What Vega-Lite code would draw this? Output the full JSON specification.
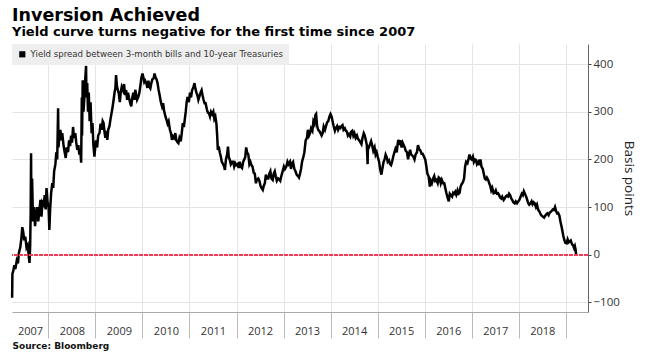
{
"$schema": "https://vega.github.io/schema/vega-lite/v6.json",
"width": 576, "height": 268,
"autosize": {"type": "none"},
"padding": {"left": 12, "top": 44, "right": 63, "bottom": 41},
"background": "white",
"title": {"text": "Inversion Achieved", "subtitle": "Yield curve turns negative for the first time since 2007", "anchor": "start", "frame": "group", "font": "DejaVu Sans", "fontSize": 17.5, "fontWeight": "bold", "color": "#000", "subtitleFont": "DejaVu Sans", "subtitleFontSize": 13, "subtitleFontWeight": "bold", "subtitleColor": "#000", "subtitlePadding": 1.5, "offset": 5},
"data": {"values": [
{"d":"2007-03-26","v":-90},{"d":"2007-03-28","v":-40},{"d":"2007-04-03","v":-35},{"d":"2007-04-12","v":-22},{"d":"2007-04-20","v":-30},{"d":"2007-05-01","v":-12},{"d":"2007-05-10","v":-18},{"d":"2007-05-18","v":5},{"d":"2007-05-28","v":15},{"d":"2007-06-06","v":35},{"d":"2007-06-13","v":58},{"d":"2007-06-20","v":48},{"d":"2007-06-28","v":30},{"d":"2007-07-06","v":38},{"d":"2007-07-16","v":15},{"d":"2007-07-25","v":20},{"d":"2007-08-03","v":-5},{"d":"2007-08-08","v":-17},{"d":"2007-08-13","v":20},{"d":"2007-08-17","v":90},{"d":"2007-08-20","v":213},{"d":"2007-08-22","v":110},{"d":"2007-08-28","v":160},{"d":"2007-09-04","v":70},{"d":"2007-09-12","v":100},{"d":"2007-09-20","v":60},{"d":"2007-09-28","v":85},{"d":"2007-10-06","v":100},{"d":"2007-10-15","v":70},{"d":"2007-10-24","v":95},{"d":"2007-11-01","v":115},{"d":"2007-11-09","v":80},{"d":"2007-11-16","v":110},{"d":"2007-11-26","v":105},{"d":"2007-12-04","v":125},{"d":"2007-12-12","v":95},{"d":"2007-12-18","v":140},{"d":"2007-12-26","v":110},
{"d":"2008-01-03","v":100},{"d":"2008-01-09","v":52},{"d":"2008-01-15","v":95},{"d":"2008-01-23","v":130},{"d":"2008-02-01","v":150},{"d":"2008-02-08","v":140},{"d":"2008-02-15","v":175},{"d":"2008-02-25","v":190},{"d":"2008-03-03","v":215},{"d":"2008-03-10","v":200},{"d":"2008-03-17","v":307},{"d":"2008-03-20","v":225},{"d":"2008-03-27","v":250},{"d":"2008-04-04","v":262},{"d":"2008-04-11","v":240},{"d":"2008-04-18","v":255},{"d":"2008-04-28","v":230},{"d":"2008-05-07","v":215},{"d":"2008-05-15","v":203},{"d":"2008-05-23","v":225},{"d":"2008-06-02","v":215},{"d":"2008-06-10","v":240},{"d":"2008-06-18","v":228},{"d":"2008-06-26","v":250},{"d":"2008-07-03","v":235},{"d":"2008-07-11","v":268},{"d":"2008-07-18","v":245},{"d":"2008-07-28","v":255},{"d":"2008-08-05","v":235},{"d":"2008-08-13","v":220},{"d":"2008-08-21","v":230},{"d":"2008-08-29","v":210},{"d":"2008-09-05","v":220},{"d":"2008-09-12","v":193},{"d":"2008-09-17","v":330},{"d":"2008-09-19","v":250},{"d":"2008-09-24","v":366},{"d":"2008-09-30","v":300},{"d":"2008-10-07","v":330},{"d":"2008-10-14","v":370},{"d":"2008-10-20","v":396},{"d":"2008-10-23","v":330},{"d":"2008-10-29","v":360},{"d":"2008-11-04","v":300},{"d":"2008-11-10","v":340},{"d":"2008-11-17","v":280},{"d":"2008-11-24","v":320},{"d":"2008-12-02","v":255},{"d":"2008-12-09","v":276},{"d":"2008-12-16","v":230},{"d":"2008-12-24","v":206},{"d":"2008-12-30","v":225},
{"d":"2009-01-06","v":240},{"d":"2009-01-14","v":225},{"d":"2009-01-22","v":250},{"d":"2009-02-02","v":256},{"d":"2009-02-10","v":275},{"d":"2009-02-18","v":262},{"d":"2009-02-26","v":280},{"d":"2009-03-05","v":276},{"d":"2009-03-12","v":258},{"d":"2009-03-19","v":245},{"d":"2009-03-27","v":260},{"d":"2009-04-03","v":241},{"d":"2009-04-10","v":262},{"d":"2009-04-20","v":270},{"d":"2009-04-28","v":285},{"d":"2009-05-06","v":297},{"d":"2009-05-14","v":310},{"d":"2009-05-22","v":325},{"d":"2009-05-29","v":340},{"d":"2009-06-05","v":350},{"d":"2009-06-10","v":377},{"d":"2009-06-16","v":355},{"d":"2009-06-24","v":345},{"d":"2009-07-01","v":339},{"d":"2009-07-09","v":320},{"d":"2009-07-16","v":340},{"d":"2009-07-24","v":352},{"d":"2009-08-03","v":345},{"d":"2009-08-11","v":358},{"d":"2009-08-19","v":335},{"d":"2009-08-27","v":345},{"d":"2009-09-04","v":325},{"d":"2009-09-11","v":340},{"d":"2009-09-18","v":330},{"d":"2009-09-28","v":318},{"d":"2009-10-06","v":311},{"d":"2009-10-14","v":330},{"d":"2009-10-22","v":340},{"d":"2009-10-30","v":325},{"d":"2009-11-06","v":346},{"d":"2009-11-13","v":335},{"d":"2009-11-20","v":325},{"d":"2009-11-30","v":331},{"d":"2009-12-08","v":340},{"d":"2009-12-16","v":355},{"d":"2009-12-23","v":370},
{"d":"2010-01-01","v":380},{"d":"2010-01-08","v":372},{"d":"2010-01-15","v":362},{"d":"2010-01-22","v":365},{"d":"2010-02-01","v":359},{"d":"2010-02-08","v":350},{"d":"2010-02-16","v":365},{"d":"2010-02-24","v":352},{"d":"2010-03-03","v":349},{"d":"2010-03-11","v":360},{"d":"2010-03-19","v":368},{"d":"2010-03-29","v":370},{"d":"2010-04-05","v":380},{"d":"2010-04-12","v":372},{"d":"2010-04-20","v":368},{"d":"2010-04-28","v":360},{"d":"2010-05-06","v":346},{"d":"2010-05-14","v":335},{"d":"2010-05-24","v":320},{"d":"2010-06-02","v":311},{"d":"2010-06-10","v":318},{"d":"2010-06-18","v":302},{"d":"2010-06-28","v":290},{"d":"2010-07-07","v":283},{"d":"2010-07-15","v":275},{"d":"2010-07-23","v":280},{"d":"2010-08-02","v":262},{"d":"2010-08-10","v":255},{"d":"2010-08-18","v":241},{"d":"2010-08-26","v":248},{"d":"2010-09-03","v":245},{"d":"2010-09-13","v":255},{"d":"2010-09-21","v":240},{"d":"2010-09-30","v":236},{"d":"2010-10-07","v":234},{"d":"2010-10-15","v":245},{"d":"2010-10-25","v":238},{"d":"2010-11-02","v":255},{"d":"2010-11-10","v":276},{"d":"2010-11-18","v":268},{"d":"2010-11-26","v":285},{"d":"2010-12-03","v":300},{"d":"2010-12-10","v":320},{"d":"2010-12-17","v":331},{"d":"2010-12-27","v":320},
{"d":"2011-01-05","v":340},{"d":"2011-01-13","v":330},{"d":"2011-01-21","v":345},{"d":"2011-02-01","v":352},{"d":"2011-02-09","v":360},{"d":"2011-02-16","v":348},{"d":"2011-02-24","v":340},{"d":"2011-03-03","v":335},{"d":"2011-03-11","v":325},{"d":"2011-03-18","v":331},{"d":"2011-03-28","v":340},{"d":"2011-04-05","v":345},{"d":"2011-04-12","v":335},{"d":"2011-04-20","v":325},{"d":"2011-04-28","v":318},{"d":"2011-05-06","v":318},{"d":"2011-05-16","v":305},{"d":"2011-05-24","v":298},{"d":"2011-06-01","v":297},{"d":"2011-06-09","v":290},{"d":"2011-06-17","v":300},{"d":"2011-06-27","v":295},{"d":"2011-07-05","v":300},{"d":"2011-07-13","v":285},{"d":"2011-07-21","v":290},{"d":"2011-07-29","v":275},{"d":"2011-08-04","v":250},{"d":"2011-08-09","v":220},{"d":"2011-08-16","v":227},{"d":"2011-08-24","v":215},{"d":"2011-09-01","v":206},{"d":"2011-09-09","v":195},{"d":"2011-09-19","v":190},{"d":"2011-09-27","v":185},{"d":"2011-10-03","v":178},{"d":"2011-10-11","v":200},{"d":"2011-10-20","v":210},{"d":"2011-10-27","v":227},{"d":"2011-11-02","v":205},{"d":"2011-11-10","v":199},{"d":"2011-11-18","v":190},{"d":"2011-11-28","v":195},{"d":"2011-12-06","v":195},{"d":"2011-12-14","v":185},{"d":"2011-12-22","v":192},{"d":"2011-12-30","v":188},
{"d":"2012-01-09","v":190},{"d":"2012-01-18","v":182},{"d":"2012-01-26","v":195},{"d":"2012-02-03","v":185},{"d":"2012-02-13","v":182},{"d":"2012-02-22","v":195},{"d":"2012-03-01","v":200},{"d":"2012-03-09","v":205},{"d":"2012-03-16","v":225},{"d":"2012-03-23","v":215},{"d":"2012-04-02","v":210},{"d":"2012-04-10","v":190},{"d":"2012-04-18","v":195},{"d":"2012-04-26","v":188},{"d":"2012-05-04","v":185},{"d":"2012-05-14","v":172},{"d":"2012-05-22","v":170},{"d":"2012-05-31","v":150},{"d":"2012-06-08","v":158},{"d":"2012-06-18","v":160},{"d":"2012-06-27","v":155},{"d":"2012-07-05","v":145},{"d":"2012-07-13","v":140},{"d":"2012-07-23","v":136},{"d":"2012-07-31","v":145},{"d":"2012-08-08","v":150},{"d":"2012-08-16","v":168},{"d":"2012-08-24","v":160},{"d":"2012-09-04","v":160},{"d":"2012-09-12","v":170},{"d":"2012-09-20","v":175},{"d":"2012-09-28","v":160},{"d":"2012-10-08","v":157},{"d":"2012-10-16","v":170},{"d":"2012-10-24","v":175},{"d":"2012-11-01","v":164},{"d":"2012-11-09","v":155},{"d":"2012-11-19","v":160},{"d":"2012-11-28","v":158},{"d":"2012-12-06","v":155},{"d":"2012-12-14","v":165},{"d":"2012-12-24","v":175},
{"d":"2013-01-03","v":185},{"d":"2013-01-11","v":180},{"d":"2013-01-22","v":185},{"d":"2013-01-31","v":195},{"d":"2013-02-08","v":190},{"d":"2013-02-19","v":195},{"d":"2013-02-27","v":180},{"d":"2013-03-07","v":192},{"d":"2013-03-15","v":195},{"d":"2013-03-25","v":180},{"d":"2013-04-03","v":175},{"d":"2013-04-12","v":168},{"d":"2013-04-22","v":165},{"d":"2013-04-30","v":162},{"d":"2013-05-08","v":170},{"d":"2013-05-16","v":180},{"d":"2013-05-24","v":195},{"d":"2013-06-03","v":205},{"d":"2013-06-11","v":215},{"d":"2013-06-21","v":240},{"d":"2013-07-01","v":245},{"d":"2013-07-08","v":262},{"d":"2013-07-17","v":250},{"d":"2013-07-25","v":255},{"d":"2013-08-02","v":265},{"d":"2013-08-12","v":260},{"d":"2013-08-20","v":280},{"d":"2013-08-28","v":275},{"d":"2013-09-05","v":293},{"d":"2013-09-10","v":295},{"d":"2013-09-18","v":270},{"d":"2013-09-26","v":262},{"d":"2013-10-04","v":260},{"d":"2013-10-14","v":255},{"d":"2013-10-23","v":250},{"d":"2013-10-31","v":255},{"d":"2013-11-08","v":269},{"d":"2013-11-18","v":262},{"d":"2013-11-26","v":270},{"d":"2013-12-05","v":278},{"d":"2013-12-13","v":280},{"d":"2013-12-23","v":290},{"d":"2013-12-31","v":295},
{"d":"2014-01-08","v":290},{"d":"2014-01-16","v":280},{"d":"2014-01-24","v":270},{"d":"2014-02-03","v":260},{"d":"2014-02-11","v":266},{"d":"2014-02-20","v":270},{"d":"2014-02-28","v":262},{"d":"2014-03-10","v":268},{"d":"2014-03-18","v":266},{"d":"2014-03-26","v":270},{"d":"2014-04-03","v":272},{"d":"2014-04-11","v":262},{"d":"2014-04-21","v":265},{"d":"2014-04-29","v":260},{"d":"2014-05-07","v":258},{"d":"2014-05-15","v":250},{"d":"2014-05-23","v":253},{"d":"2014-06-02","v":248},{"d":"2014-06-10","v":258},{"d":"2014-06-18","v":260},{"d":"2014-06-26","v":250},{"d":"2014-07-04","v":255},{"d":"2014-07-14","v":245},{"d":"2014-07-24","v":250},{"d":"2014-08-01","v":243},{"d":"2014-08-11","v":240},{"d":"2014-08-19","v":236},{"d":"2014-08-28","v":232},{"d":"2014-09-05","v":245},{"d":"2014-09-15","v":255},{"d":"2014-09-23","v":250},{"d":"2014-10-01","v":240},{"d":"2014-10-09","v":230},{"d":"2014-10-15","v":190},{"d":"2014-10-17","v":220},{"d":"2014-10-24","v":225},{"d":"2014-11-03","v":232},{"d":"2014-11-11","v":238},{"d":"2014-11-19","v":230},{"d":"2014-11-28","v":218},{"d":"2014-12-08","v":225},{"d":"2014-12-16","v":210},{"d":"2014-12-24","v":215},
{"d":"2015-01-02","v":205},{"d":"2015-01-12","v":195},{"d":"2015-01-20","v":180},{"d":"2015-01-30","v":168},{"d":"2015-02-06","v":180},{"d":"2015-02-16","v":195},{"d":"2015-02-24","v":200},{"d":"2015-03-04","v":210},{"d":"2015-03-12","v":205},{"d":"2015-03-20","v":195},{"d":"2015-03-30","v":198},{"d":"2015-04-07","v":190},{"d":"2015-04-15","v":188},{"d":"2015-04-23","v":195},{"d":"2015-05-01","v":205},{"d":"2015-05-11","v":215},{"d":"2015-05-19","v":222},{"d":"2015-05-29","v":215},{"d":"2015-06-05","v":232},{"d":"2015-06-10","v":241},{"d":"2015-06-18","v":230},{"d":"2015-06-26","v":240},{"d":"2015-07-06","v":225},{"d":"2015-07-14","v":235},{"d":"2015-07-22","v":230},{"d":"2015-07-30","v":225},{"d":"2015-08-07","v":218},{"d":"2015-08-17","v":215},{"d":"2015-08-25","v":200},{"d":"2015-09-02","v":212},{"d":"2015-09-10","v":220},{"d":"2015-09-18","v":210},{"d":"2015-09-28","v":208},{"d":"2015-10-06","v":205},{"d":"2015-10-14","v":200},{"d":"2015-10-22","v":210},{"d":"2015-11-02","v":215},{"d":"2015-11-10","v":230},{"d":"2015-11-18","v":222},{"d":"2015-11-30","v":218},{"d":"2015-12-08","v":212},{"d":"2015-12-16","v":212},{"d":"2015-12-28","v":205},
{"d":"2016-01-06","v":199},{"d":"2016-01-14","v":185},{"d":"2016-01-22","v":170},{"d":"2016-02-01","v":164},{"d":"2016-02-10","v":143},{"d":"2016-02-18","v":155},{"d":"2016-02-26","v":150},{"d":"2016-03-07","v":160},{"d":"2016-03-15","v":165},{"d":"2016-03-23","v":155},{"d":"2016-04-01","v":157},{"d":"2016-04-11","v":150},{"d":"2016-04-19","v":162},{"d":"2016-04-27","v":160},{"d":"2016-05-05","v":150},{"d":"2016-05-13","v":157},{"d":"2016-05-23","v":150},{"d":"2016-06-01","v":150},{"d":"2016-06-09","v":140},{"d":"2016-06-17","v":130},{"d":"2016-06-27","v":120},{"d":"2016-07-06","v":112},{"d":"2016-07-14","v":128},{"d":"2016-07-22","v":125},{"d":"2016-08-01","v":122},{"d":"2016-08-09","v":130},{"d":"2016-08-17","v":128},{"d":"2016-08-25","v":132},{"d":"2016-09-02","v":126},{"d":"2016-09-12","v":135},{"d":"2016-09-20","v":128},{"d":"2016-09-28","v":130},{"d":"2016-10-06","v":143},{"d":"2016-10-14","v":148},{"d":"2016-10-24","v":152},{"d":"2016-11-02","v":160},{"d":"2016-11-10","v":185},{"d":"2016-11-18","v":195},{"d":"2016-11-28","v":192},{"d":"2016-12-06","v":200},{"d":"2016-12-14","v":210},{"d":"2016-12-22","v":202},{"d":"2016-12-30","v":200},
{"d":"2017-01-09","v":206},{"d":"2017-01-17","v":195},{"d":"2017-01-25","v":200},{"d":"2017-02-02","v":199},{"d":"2017-02-10","v":190},{"d":"2017-02-21","v":195},{"d":"2017-03-01","v":188},{"d":"2017-03-09","v":200},{"d":"2017-03-17","v":185},{"d":"2017-03-27","v":180},{"d":"2017-04-04","v":170},{"d":"2017-04-12","v":160},{"d":"2017-04-20","v":158},{"d":"2017-04-28","v":162},{"d":"2017-05-08","v":157},{"d":"2017-05-16","v":150},{"d":"2017-05-24","v":145},{"d":"2017-06-01","v":135},{"d":"2017-06-09","v":140},{"d":"2017-06-19","v":129},{"d":"2017-06-27","v":130},{"d":"2017-07-06","v":135},{"d":"2017-07-14","v":128},{"d":"2017-07-24","v":129},{"d":"2017-08-01","v":125},{"d":"2017-08-09","v":120},{"d":"2017-08-17","v":118},{"d":"2017-08-25","v":122},{"d":"2017-09-05","v":115},{"d":"2017-09-13","v":118},{"d":"2017-09-21","v":122},{"d":"2017-09-29","v":124},{"d":"2017-10-09","v":122},{"d":"2017-10-17","v":128},{"d":"2017-10-25","v":125},{"d":"2017-11-02","v":119},{"d":"2017-11-10","v":115},{"d":"2017-11-20","v":110},{"d":"2017-11-30","v":108},{"d":"2017-12-08","v":112},{"d":"2017-12-18","v":108},{"d":"2017-12-27","v":112},
{"d":"2018-01-05","v":115},{"d":"2018-01-15","v":122},{"d":"2018-01-24","v":128},{"d":"2018-02-01","v":125},{"d":"2018-02-09","v":133},{"d":"2018-02-17","v":128},{"d":"2018-02-27","v":122},{"d":"2018-03-07","v":115},{"d":"2018-03-15","v":108},{"d":"2018-03-23","v":105},{"d":"2018-04-02","v":108},{"d":"2018-04-10","v":112},{"d":"2018-04-18","v":106},{"d":"2018-04-26","v":110},{"d":"2018-05-04","v":108},{"d":"2018-05-14","v":100},{"d":"2018-05-22","v":105},{"d":"2018-06-01","v":94},{"d":"2018-06-11","v":90},{"d":"2018-06-19","v":85},{"d":"2018-06-27","v":82},{"d":"2018-07-06","v":80},{"d":"2018-07-16","v":78},{"d":"2018-07-25","v":82},{"d":"2018-08-02","v":85},{"d":"2018-08-10","v":87},{"d":"2018-08-20","v":83},{"d":"2018-08-28","v":88},{"d":"2018-09-05","v":90},{"d":"2018-09-13","v":92},{"d":"2018-09-21","v":95},{"d":"2018-10-01","v":94},{"d":"2018-10-09","v":100},{"d":"2018-10-17","v":92},{"d":"2018-10-25","v":87},{"d":"2018-11-02","v":88},{"d":"2018-11-12","v":82},{"d":"2018-11-20","v":70},{"d":"2018-11-28","v":60},{"d":"2018-12-04","v":52},{"d":"2018-12-12","v":40},{"d":"2018-12-20","v":31},{"d":"2018-12-28","v":25},
{"d":"2019-01-07","v":24},{"d":"2019-01-15","v":32},{"d":"2019-01-23","v":26},{"d":"2019-01-31","v":28},{"d":"2019-02-08","v":30},{"d":"2019-02-18","v":22},{"d":"2019-02-26","v":20},{"d":"2019-03-06","v":14},{"d":"2019-03-12","v":18},{"d":"2019-03-18","v":10},{"d":"2019-03-22","v":-2}
]},
"layer": [
{"mark": {"type": "line", "strokeWidth": 2.5},
 "encoding": {
  "x": {"field": "d", "type": "temporal",
   "scale": {"domain": [{"year": 2007, "month": 3, "date": 25, "utc": true}, {"year": 2019, "month": 6, "date": 22, "utc": true}]},
   "axis": {"values": [{"year": 2007, "month": 8, "date": 12, "utc": true}, {"year": 2008, "month": 1, "date": 1, "utc": true}, {"year": 2008, "month": 7, "date": 2, "utc": true}, {"year": 2009, "month": 1, "date": 1, "utc": true}, {"year": 2009, "month": 7, "date": 2, "utc": true}, {"year": 2010, "month": 1, "date": 1, "utc": true}, {"year": 2010, "month": 7, "date": 2, "utc": true}, {"year": 2011, "month": 1, "date": 1, "utc": true}, {"year": 2011, "month": 7, "date": 2, "utc": true}, {"year": 2012, "month": 1, "date": 1, "utc": true}, {"year": 2012, "month": 7, "date": 2, "utc": true}, {"year": 2013, "month": 1, "date": 1, "utc": true}, {"year": 2013, "month": 7, "date": 2, "utc": true}, {"year": 2014, "month": 1, "date": 1, "utc": true}, {"year": 2014, "month": 7, "date": 2, "utc": true}, {"year": 2015, "month": 1, "date": 1, "utc": true}, {"year": 2015, "month": 7, "date": 2, "utc": true}, {"year": 2016, "month": 1, "date": 1, "utc": true}, {"year": 2016, "month": 7, "date": 2, "utc": true}, {"year": 2017, "month": 1, "date": 1, "utc": true}, {"year": 2017, "month": 7, "date": 2, "utc": true}, {"year": 2018, "month": 1, "date": 1, "utc": true}, {"year": 2018, "month": 7, "date": 2, "utc": true}, {"year": 2019, "month": 1, "date": 1, "utc": true}],
    "labelExpr": "utcmonth(datum.value) == 0 ? '' : utcFormat(datum.value, '%Y')",
    "tickSize": 26, "tickColor": "#bbbbbb",
    "tickOpacity": {"condition": {"test": "utcmonth(datum.value) != 0", "value": 0}, "value": 1},
    "grid": true, "gridColor": "#e4e4e4",
    "gridOpacity": {"condition": {"test": "utcmonth(datum.value) != 0", "value": 0}, "value": 1},
    "domainColor": "#aaaaaa",
    "labelPadding": -12.5, "labelFont": "Open Sans", "labelFontSize": 11, "labelColor": "#333333",
    "labelOverlap": false, "labelBound": false, "labelFlush": false,
    "title": "Source: Bloomberg", "titleFont": "DejaVu Sans", "titleFontSize": 9, "titleFontWeight": "bold", "titleColor": "#111111",
    "titleAnchor": "start", "titleAlign": "left", "titlePadding": 3}},
  "y": {"field": "v", "type": "quantitative",
   "scale": {"domain": [-120, 442], "nice": false, "zero": false},
   "axis": {"orient": "right", "values": [-100, -50, 0, 50, 100, 150, 200, 250, 300, 350, 400],
    "title": "Basis points", "titleFont": "Open Sans", "titleFontSize": 13.5, "titleFontWeight": "normal", "titleColor": "#222222", "titlePadding": 2,
    "labelFont": "Open Sans", "labelFontSize": 11.5, "labelColor": "#333333", "labelPadding": 2,
    "labelExpr": "datum.value % 100 == 0 ? datum.label : ''",
    "tickSize": 3,
    "tickColor": {"condition": {"test": "datum.value % 100 != 0", "value": "#aaaaaa"}, "value": "#444444"},
    "domainColor": "#666666",
    "grid": true, "gridColor": "#e4e4e4",
    "gridOpacity": {"condition": {"test": "datum.value % 100 != 0", "value": 0}, "value": 1},
    "labelBound": false, "labelFlush": false, "labelOverlap": false}},
  "color": {"datum": "Yield spread between 3-month bills and 10-year Treasuries",
   "scale": {"range": ["#000000"]},
   "legend": {"title": null, "orient": "top-left", "offset": 0, "fillColor": "#eeeeee", "padding": 6,
    "symbolType": "square", "symbolSize": 38, "symbolStrokeWidth": 0,
    "labelFont": "DejaVu Sans", "labelFontSize": 8.6, "labelColor": "#333333", "labelOffset": 4, "labelLimit": 400,
    "encode": {"symbols": {"update": {"fill": {"value": "#000000"}, "stroke": {"value": "#000000"}, "strokeWidth": {"value": 0}}}}}}
 }},
{"mark": {"type": "rule", "color": "#f03c5a", "strokeDash": [1.5, 1], "strokeWidth": 1.2},
 "encoding": {"y": {"datum": 0, "type": "quantitative"}}}
]
,
"config": {"view": {"stroke": null}}
}
